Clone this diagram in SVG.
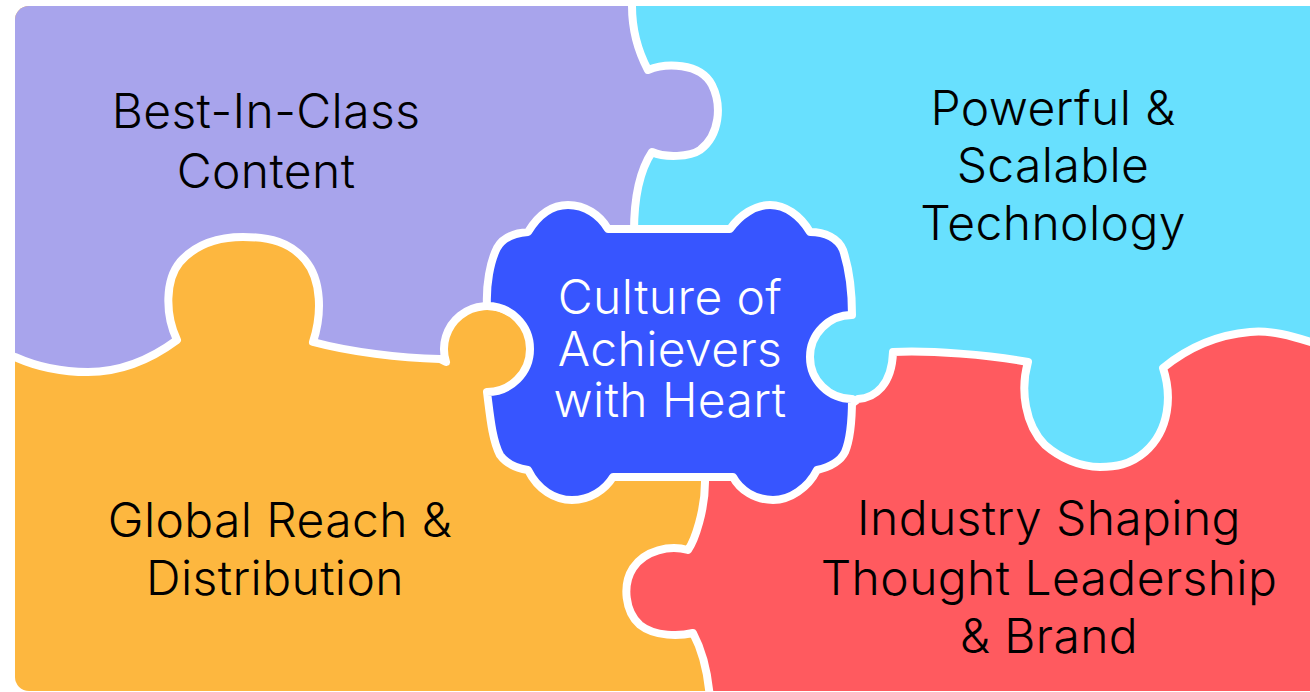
<svg xmlns="http://www.w3.org/2000/svg" width="1310" height="692" viewBox="0 0 1310 692">
<defs>
<clipPath id="frame"><rect x="15" y="6" width="1320" height="685" rx="14" ry="14"/></clipPath>
<style>
.piece{stroke:#FFFFFF;stroke-width:8;stroke-linejoin:round}
.lbl{font-family:Inter,"Liberation Sans",sans-serif;font-weight:300;font-size:48px;letter-spacing:0.4px;text-anchor:middle;fill:#000000}
.lblw{font-family:Inter,"Liberation Sans",sans-serif;font-weight:300;font-size:48px;letter-spacing:0.4px;text-anchor:middle;fill:#FFFFFF}
</style>
</defs>
<rect x="0" y="0" width="1310" height="692" fill="#FFFFFF"/>
<g clip-path="url(#frame)">
<g id="piece-global-reach">
<rect x="0" y="0" width="1330" height="700" fill="#FDB73F"/>
</g>
<g id="piece-technology">
<rect x="600" y="0" width="730" height="475" fill="#68E0FE"/>
</g>
<g id="piece-content">
<path class="piece" fill="#A8A4EC" d="M -10 -10 L 632 -10 L 632 6 C 632 35 640 55 648 70 C 665 63 700 62 712 85 C 722 105 720 135 700 150 C 690 157 665 158 652 152 C 640 170 634 195 634 232 L 600 300 L 540 300 L 508.5 311.8 A 43 43 0 0 0 446 362 L 440 359 C 400 358 350 352 313 342 C 322 315 322 280 305 260 C 290 242 270 237 243 237 C 215 237 195 245 180 262 C 165 280 165 315 177 340 C 150 360 120 372 88 372 C 60 372 35 366 15 357 L -10 350 Z"/>
</g>
<g id="piece-thought-leadership">
<path class="piece" fill="#FF5A5F" d="M 893 352 C 930 350 990 355 1028 362 C 1020 390 1025 425 1045 445 C 1060 458 1080 467 1100 467 C 1115 467 1130 465 1145 452 C 1170 430 1172 395 1163 368 C 1185 350 1215 335 1250 332 C 1270 330 1290 335 1320 345 L 1340 345 L 1340 710 L 710 710 L 710 700 C 708 670 702 650 693 633 C 680 636 655 637 640 625 C 625 612 622 585 633 568 C 645 550 670 545 688 550 C 695 540 705 510 705 482 L 705 470 L 830 420 L 858 399 C 875 398 892 385 893 352 Z"/>
</g>
<g id="piece-culture">
<path class="piece" fill="#3755FF" d="M 528 232 C 540 212 555 205 568 205 C 585 205 600 215 608 229 L 730 229 C 740 215 755 205 770 205 C 785 205 800 215 810 232 C 825 232 838 238 843 250 C 848 265 852 290 852 315 A 42 42 0 0 0 810 357 A 42 42 0 0 0 852 399 C 852 420 850 440 845 452 C 840 462 830 467 817 470 C 808 488 790 500 773 500 C 755 500 740 490 733 477 L 613 477 C 605 490 590 500 572 500 C 555 500 538 490 528 470 C 515 468 505 462 500 455 C 492 440 490 415 487 392 A 43 43 0 0 0 530 349 A 43 43 0 0 0 487 306 C 486 285 490 262 497 248 C 503 237 515 233 528 232 Z"/>
</g>
</g>
<g id="labels">
<text class="lbl" x="266" y="128">Best-In-Class</text>
<text class="lbl" x="266" y="188">Content</text>
<text class="lbl" x="1053" y="125">Powerful &amp;</text>
<text class="lbl" x="1053" y="182">Scalable</text>
<text class="lbl" x="1053" y="240">Technology</text>
<text class="lbl" x="280" y="537">Global Reach &amp;</text>
<text class="lbl" x="275" y="595">Distribution</text>
<text class="lbl" x="1049" y="535">Industry Shaping</text>
<text class="lbl" x="1049" y="595">Thought Leadership</text>
<text class="lbl" x="1049" y="653">&amp; Brand</text>
<text class="lblw" x="670" y="314">Culture of</text>
<text class="lblw" x="670" y="366">Achievers</text>
<text class="lblw" x="670" y="417">with Heart</text>
</g>
</svg>
